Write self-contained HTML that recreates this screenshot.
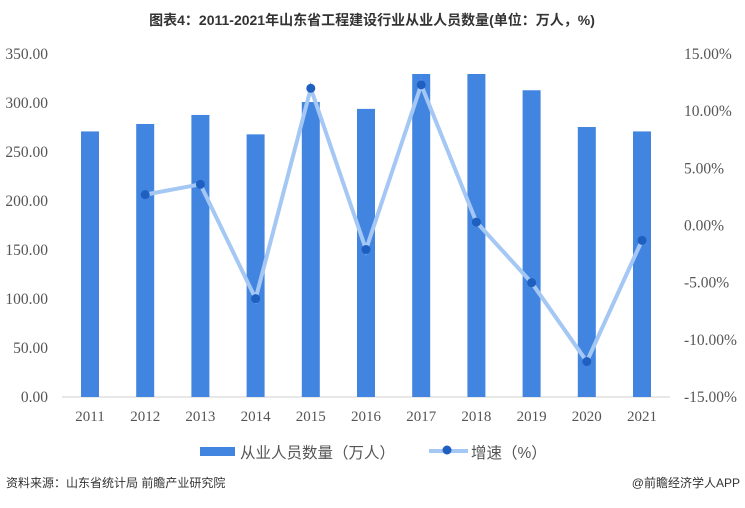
<!DOCTYPE html>
<html><head><meta charset="utf-8"><style>
body{margin:0;background:#fff;width:745px;height:503px;overflow:hidden}
svg text{font-family:"Liberation Serif","Noto Sans CJK SC",serif}
.cjk{font-family:"Liberation Sans","Noto Sans CJK SC",sans-serif !important}
</style></head><body>
<svg id="c" width="745" height="503">
<text class="cjk" x="372" y="25" text-anchor="middle" font-size="14" font-weight="bold" fill="#333">图表4：2011-2021年山东省工程建设行业从业人员数量(单位：万人，%)</text>
<line x1="62" y1="397" x2="670" y2="397" stroke="#d0d0d0"/>
<g id="bars"></g><g id="line"></g><g id="ticks"></g>
<g>
<rect x="200" y="447" width="35" height="9" fill="#4285e0"/>
<text class="cjk" x="240" y="458" font-size="15.5" fill="#555">从业人员数量（万人）</text>
<line x1="429" y1="451" x2="468" y2="451" stroke="#a4c7f4" stroke-width="4"/>
<circle cx="447" cy="450" r="4.5" fill="#1f5fc0"/>
<text class="cjk" x="471" y="458" font-size="15.5" fill="#555">增速（%）</text>
</g>
<text class="cjk" x="6" y="487" font-size="12" fill="#333">资料来源：山东省统计局 前瞻产业研究院</text>
<text class="cjk" x="740" y="487" font-size="12" fill="#333" text-anchor="end">@前瞻经济学人APP</text>
</svg>
<script>
const years=["2011","2012","2013","2014","2015","2016","2017","2018","2019","2020","2021"];
const workers=[271,278.6,287.8,268,301,294,329.6,329.6,313,275.5,271];
const growth=[null,2.7,3.6,-6.4,12.0,-2.1,12.3,0.3,-5.0,-11.9,-1.3];
const leftTicks=["0.00","50.00","100.00","150.00","200.00","250.00","300.00","350.00"];
const rightTicks=["-15.00%","-10.00%","-5.00%","0.00%","5.00%","10.00%","15.00%"];
const NS="http://www.w3.org/2000/svg";
const x=i=>90+i*55.2, yL=v=>397-v*343/350, yR=p=>225.5-p*343/30;
function mk(t,a,p){const e=document.createElementNS(NS,t);for(const k in a)e.setAttribute(k,a[k]);p.appendChild(e);return e;}
const bars=document.getElementById('bars'),line=document.getElementById('line'),ticks=document.getElementById('ticks');
years.forEach((y,i)=>{
 const r=mk('rect',{x:x(i)-9,y:yL(workers[i]),width:18,height:397-yL(workers[i]),fill:'#4285e0'},bars);
 
 
 const t=mk('text',{x:x(i),y:421,'text-anchor':'middle','font-size':15,fill:'#555'},ticks);t.textContent=y;
 
 
});
let pts=[];growth.forEach((g,i)=>{if(g!==null)pts.push(x(i)+','+yR(g));});
const pl=mk('polyline',{points:pts.join(' '),fill:'none',stroke:'#a4c7f4','stroke-width':4,'stroke-linejoin':'miter'},line);


growth.forEach((g,i)=>{if(g===null)return;const c=mk('circle',{cx:x(i),cy:yR(g),r:4.5,fill:'#1f5fc0'},line);
 
 });
leftTicks.forEach((l,i)=>{const t=mk('text',{x:48,y:yL(i*50)+5,'text-anchor':'end','font-size':15.5,fill:'#555'},ticks);t.textContent=l;
 
 });
rightTicks.forEach((l,i)=>{const t=mk('text',{x:684,y:yR(-15+i*5)+5,'font-size':15.5,fill:'#555'},ticks);t.textContent=l;
 
 });
</script>
</body></html>
